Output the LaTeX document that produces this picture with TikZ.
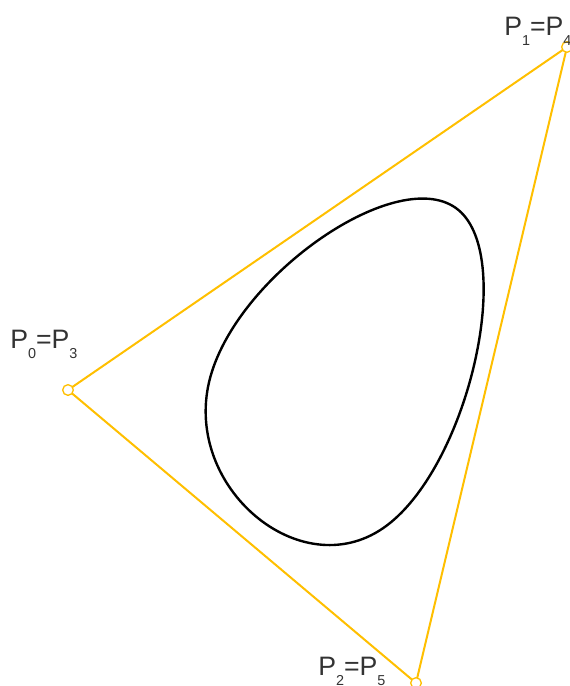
\documentclass[tikz,border=0pt]{standalone}
\usepackage{fontspec}
\setmainfont{Liberation Sans}
\usetikzlibrary{calc}
\definecolor{amber}{HTML}{FFBF00}
\definecolor{labelgray}{HTML}{333333}
\newcommand{\lowsub}[1]{\raisebox{-0.38em}{\fontsize{10.8}{10.8}\selectfont #1}}

\begin{document}
\begin{tikzpicture}[x=0.75pt,y=-0.75pt,
  ctrl/.style={circle,draw=amber,fill=white,line width=1pt,inner sep=0pt,minimum size=8pt},
  poly/.style={amber,line width=1.5pt},
  spline/.style={black,line width=1.8pt,line join=round},
  lbl/.style={anchor=base west,inner sep=0pt,text=labelgray,font=\fontsize{20}{20}\selectfont}]
  \useasboundingbox (0,0) rectangle (570,686);
  \clip (0,0) rectangle (570,686);

  % control polygon
  \coordinate (p0) at (68,390);
  \coordinate (p1) at (567,47);
  \coordinate (p2) at (416,683);
  \draw[poly] (p0) -- (p1) -- (p2) -- cycle;

  % closed cubic B-spline, one piece per edge
  \coordinate (s0) at (barycentric cs:p2=1,p0=4,p1=1);
  \coordinate (s1) at (barycentric cs:p0=1,p1=4,p2=1);
  \coordinate (s2) at (barycentric cs:p1=1,p2=4,p0=1);
  \draw[spline] (s0)
    .. controls ($(p0)!1/3!(p1)$) and ($(p0)!2/3!(p1)$) .. (s1)
    .. controls ($(p1)!1/3!(p2)$) and ($(p1)!2/3!(p2)$) .. (s2)
    .. controls ($(p2)!1/3!(p0)$) and ($(p2)!2/3!(p0)$) .. cycle;

  % markers
  \node[ctrl] (m0) at (p0) {};
  \node[ctrl] (m1) at (p1) {};
  \node[ctrl] (m2) at (p2) {};

  % labels
  \node[lbl] (l0) at (10,348) {P\lowsub{0}=P\lowsub{3}};
  \node[lbl] (l1) at (504,35) {P\lowsub{1}=P\lowsub{4}};
  \node[lbl] (l2) at (318,675) {P\lowsub{2}=P\lowsub{5}};
\end{tikzpicture}
\end{document}
